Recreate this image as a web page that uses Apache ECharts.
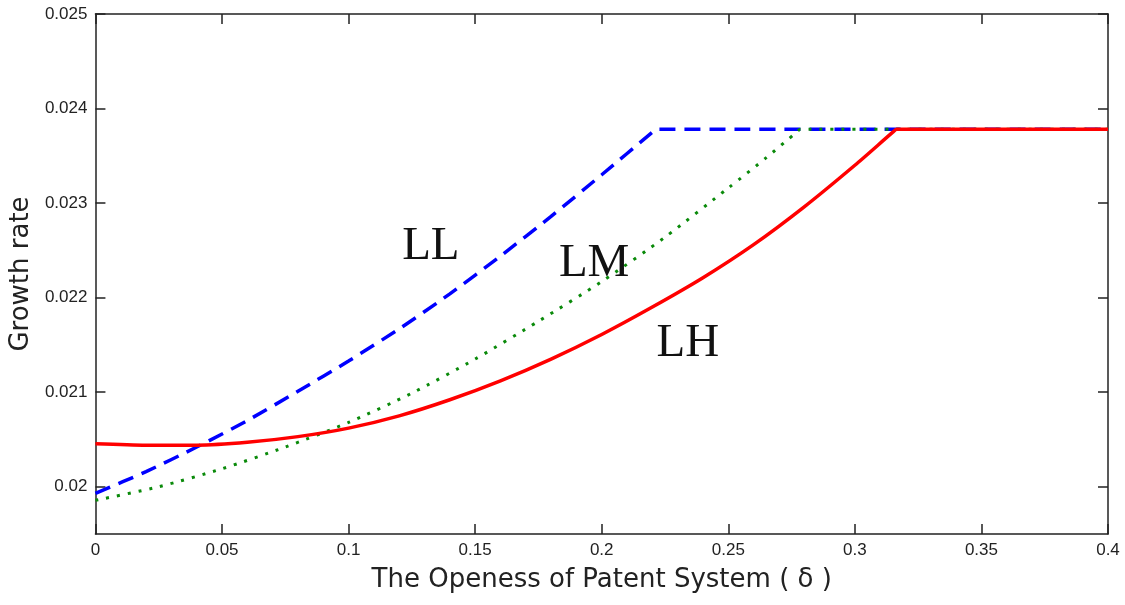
<!DOCTYPE html>
<html>
<head>
<meta charset="utf-8">
<script src="https://cdn.jsdelivr.net/npm/echarts@6/dist/echarts.min.js"></script>
<style>
  html, body { margin: 0; padding: 0; background: #fff; }
  #chart { width: 1125px; height: 605px; }
</style>
</head>
<body>
<div id="chart"></div>
<script>
// Growth rate against the openness of the patent system (delta)
const llX = [0, 0.02, 0.04, 0.06, 0.08, 0.10, 0.12, 0.14, 0.16, 0.18, 0.20, 0.22, 0.2213, 0.4];
const llY = [0.01993, 0.02016, 0.02042, 0.02070, 0.02101, 0.02133, 0.02167, 0.02204, 0.02244, 0.02286, 0.02330, 0.02375, 0.02378, 0.02378];

const lmX = [0, 0.025, 0.05, 0.075, 0.10, 0.125, 0.15, 0.175, 0.20, 0.225, 0.25, 0.265, 0.277, 0.2785, 0.4];
const lmY = [0.019856, 0.02000, 0.02019, 0.02042, 0.02068, 0.02099, 0.02135, 0.02175, 0.02217, 0.02264, 0.02316, 0.02348, 0.02375, 0.02378, 0.02378];

const lhX = [0, 0.02, 0.04, 0.06, 0.08, 0.10, 0.12, 0.14, 0.16, 0.18, 0.20, 0.22, 0.24, 0.26, 0.28, 0.30, 0.315, 0.3165, 0.4];
const lhY = [0.020455, 0.020440, 0.020440, 0.020470, 0.02053, 0.02062, 0.02075, 0.02092, 0.02112, 0.02135, 0.02161, 0.02190, 0.02221, 0.02256, 0.02296, 0.02340, 0.02375, 0.02378, 0.02378];

const yTicks = [0.020, 0.021, 0.022, 0.023, 0.024, 0.025];

// Curve labels: [text, delta, growth rate]
const curveLabels = [
  ['LL', 0.1325, 0.022535],
  ['LM', 0.1970, 0.02236],
  ['LH', 0.2340, 0.02151]
];

const pairs = (xs, ys) => xs.map((x, i) => [x, ys[i]]);

const tickFont = { fontFamily: 'Liberation Sans Narrow, Arial Narrow, sans-serif', fontSize: 17, color: '#222' };
const axisLineStyle = { color: '#222', width: 1.5 };
const tickStyle = { color: '#222', width: 1.5 };

const chart = echarts.init(document.getElementById('chart'), null, { renderer: 'canvas' });

const option = {
  backgroundColor: '#fff',
  animation: false,
  grid: { left: 94, right: 17, top: 14, bottom: 71, containLabel: false },
  xAxis: [
    {
      type: 'value', min: 0, max: 0.4, interval: 0.05,
      position: 'bottom',
      name: 'The Openess of Patent System ( δ )',
      nameLocation: 'middle', nameGap: 33,
      nameTextStyle: { fontFamily: 'DejaVu Sans, sans-serif', fontSize: 26, color: '#222' },
      axisLine: { show: true, onZero: false, lineStyle: axisLineStyle },
      axisTick: { show: true, inside: true, length: 10, lineStyle: tickStyle },
      axisLabel: Object.assign({ margin: 8 }, tickFont),
      splitLine: { show: false }
    },
    {
      type: 'value', min: 0, max: 0.4, interval: 0.05,
      position: 'top',
      axisLine: { show: true, onZero: false, lineStyle: axisLineStyle },
      axisTick: { show: true, inside: true, length: 10, lineStyle: tickStyle },
      axisLabel: { show: false },
      splitLine: { show: false }
    }
  ],
  yAxis: [
    {
      type: 'value', min: 0.0195, max: 0.025,
      position: 'left',
      name: 'Growth rate',
      nameLocation: 'middle', nameGap: 58, nameRotate: 90,
      nameTextStyle: { fontFamily: 'DejaVu Sans, sans-serif', fontSize: 26, color: '#222' },
      axisLine: { show: true, onZero: false, lineStyle: axisLineStyle },
      axisTick: { show: true, inside: true, length: 10, customValues: yTicks, lineStyle: tickStyle },
      axisLabel: Object.assign({ margin: 8, customValues: yTicks }, tickFont),
      splitLine: { show: false }
    },
    {
      type: 'value', min: 0.0195, max: 0.025,
      position: 'right',
      axisLine: { show: true, onZero: false, lineStyle: axisLineStyle },
      axisTick: { show: true, inside: true, length: 10, customValues: yTicks, lineStyle: tickStyle },
      axisLabel: { show: false, customValues: yTicks },
      splitLine: { show: false }
    }
  ],
  series: [
    {
      name: 'LL', type: 'line', data: pairs(llX, llY), showSymbol: false, smooth: 0.25,
      lineStyle: { color: '#0000ff', width: 3.5, type: [16, 9] }, z: 2
    },
    {
      name: 'LM', type: 'line', data: pairs(lmX, lmY), showSymbol: false, smooth: 0.25,
      lineStyle: { color: '#0a8a0a', width: 3, type: [3, 8] }, z: 3
    },
    {
      name: 'LH', type: 'line', data: pairs(lhX, lhY), showSymbol: false, smooth: 0.25,
      lineStyle: { color: '#ff0000', width: 3.5 }, z: 4
    }
  ]
};

chart.setOption(option);

// Place the curve names at their data positions
chart.setOption({
  graphic: curveLabels.map(([text, x, y]) => {
    const p = chart.convertToPixel({ gridIndex: 0 }, [x, y]);
    return {
      type: 'text', x: p[0], y: p[1], z: 10,
      style: {
        text: text, fill: '#111',
        font: '47px "Liberation Serif", "Times New Roman", serif',
        align: 'center', verticalAlign: 'middle'
      }
    };
  })
});
</script>
</body>
</html>
